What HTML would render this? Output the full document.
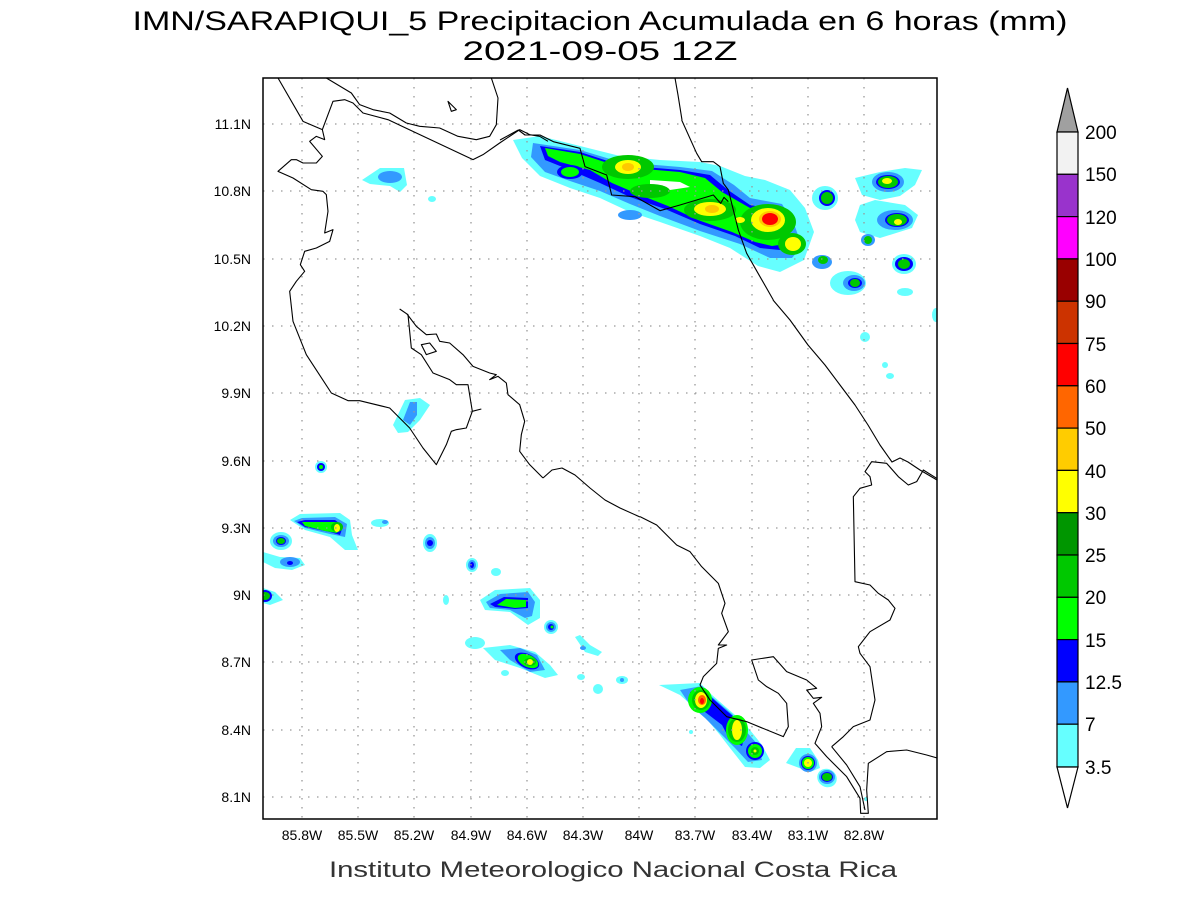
<!DOCTYPE html>
<html><head><meta charset="utf-8"><style>
html,body{margin:0;padding:0;background:#fff;}
svg{display:block;font-family:"Liberation Sans",sans-serif;}
</style></head><body>
<svg width="1200" height="900" viewBox="0 0 1200 900" xmlns="http://www.w3.org/2000/svg">
<rect width="1200" height="900" fill="#fff"/>
<text x="600" y="30" font-size="27" text-anchor="middle" textLength="935" lengthAdjust="spacingAndGlyphs">IMN/SARAPIQUI_5 Precipitacion Acumulada en 6 horas (mm)</text>
<text x="600" y="60" font-size="27" text-anchor="middle" textLength="275" lengthAdjust="spacingAndGlyphs">2021-09-05 12Z</text>

<defs><clipPath id="c"><rect x="263" y="78" width="674" height="741"/></clipPath></defs>
<g clip-path="url(#c)">
<g>
<!-- north band -->
<polygon fill="#66ffff" points="513,140 540,136 580,146 620,156 660,160 700,162 720,166 745,176 765,180 790,190 805,208 814,232 804,260 780,272 758,266 730,248 700,236 660,222 630,212 600,198 570,188 540,176 522,158"/>
<polygon fill="#3399ff" points="533,143 580,150 620,162 680,167 712,171 734,185 750,198 782,204 794,224 802,246 792,258 770,258 740,244 700,231 660,216 630,204 600,191 570,181 545,172 531,157"/>
<polygon fill="#0000ff" points="540,146 580,152 620,165 680,170 710,175 728,190 750,205 778,210 788,228 792,246 780,250 760,248 735,236 700,224 665,209 630,197 600,183 570,170 545,160"/>
<polygon fill="#00ff00" points="545,148 580,154 620,167 680,172 705,178 722,192 750,208 775,212 784,228 786,244 772,246 755,242 732,232 698,220 668,206 640,195 612,183 590,170 560,162 548,156"/>
<ellipse cx="628" cy="167" rx="26" ry="12" fill="#00c800"/>
<ellipse cx="628" cy="167" rx="13" ry="7" fill="#ffff00"/>
<ellipse cx="628" cy="167" rx="6" ry="4" fill="#ffc800"/>
<ellipse cx="570" cy="172" rx="13" ry="7" fill="#0000ff"/><ellipse cx="570" cy="172" rx="9" ry="5" fill="#00ff00"/>
<polygon fill="#ffffff" points="650,180 680,182 690,187 670,190 650,186"/>
<ellipse cx="650" cy="191" rx="20" ry="7" fill="#00c800"/>
<ellipse cx="710" cy="210" rx="26" ry="11" fill="#00c800"/>
<ellipse cx="710" cy="209" rx="16" ry="7" fill="#ffff00"/>
<ellipse cx="712" cy="209" rx="7" ry="4" fill="#ffc800"/>
<ellipse cx="768" cy="222" rx="28" ry="18" fill="#00c800"/>
<ellipse cx="768" cy="220" rx="17" ry="12" fill="#ffff00"/>
<ellipse cx="770" cy="219" rx="11" ry="8" fill="#ffc800"/>
<ellipse cx="770" cy="219" rx="8" ry="6" fill="#ff0000"/>
<ellipse cx="792" cy="244" rx="14" ry="11" fill="#00c800"/>
<ellipse cx="793" cy="244" rx="8" ry="7" fill="#ffff00"/>
<ellipse cx="740" cy="220" rx="5" ry="3" fill="#ffff00"/>
<ellipse cx="630" cy="215" rx="12" ry="5" fill="#3399ff"/>
<!-- right small -->
<polygon fill="#66ffff" points="855,178 880,172 905,168 922,170 915,185 900,196 880,200 862,195"/>
<ellipse cx="888" cy="182" rx="16" ry="10" fill="#3399ff"/><ellipse cx="888" cy="182" rx="12" ry="7" fill="#0000ff"/><ellipse cx="888" cy="182" rx="10" ry="6" fill="#00c800"/><ellipse cx="887" cy="181" rx="5" ry="3" fill="#ffff00"/>
<ellipse cx="825" cy="198" rx="13" ry="12" fill="#66ffff"/><ellipse cx="827" cy="198" rx="8" ry="8" fill="#0000ff"/><ellipse cx="827" cy="198" rx="6" ry="6" fill="#00c800"/>
<polygon fill="#66ffff" points="855,220 860,205 875,200 905,205 918,215 912,228 880,238 860,232"/>
<ellipse cx="895" cy="220" rx="18" ry="10" fill="#3399ff"/><ellipse cx="897" cy="220" rx="12" ry="7" fill="#0000ff"/><ellipse cx="897" cy="220" rx="10" ry="6" fill="#00c800"/><ellipse cx="898" cy="222" rx="4" ry="3" fill="#ffff00"/>
<ellipse cx="868" cy="240" rx="7" ry="6" fill="#3399ff"/><ellipse cx="868" cy="240" rx="4" ry="4" fill="#00c800"/>
<ellipse cx="904" cy="264" rx="12" ry="10" fill="#66ffff"/><ellipse cx="904" cy="264" rx="9" ry="7" fill="#0000ff"/><ellipse cx="904" cy="264" rx="6" ry="5" fill="#00c800"/>
<ellipse cx="822" cy="262" rx="10" ry="7" fill="#3399ff"/><ellipse cx="823" cy="260" rx="5" ry="4" fill="#00c800"/>
<ellipse cx="848" cy="283" rx="18" ry="12" fill="#66ffff"/><ellipse cx="854" cy="283" rx="11" ry="8" fill="#3399ff"/><ellipse cx="855" cy="283" rx="7" ry="5" fill="#0000ff"/><ellipse cx="855" cy="283" rx="5" ry="4" fill="#00c800"/>
<ellipse cx="905" cy="292" rx="8" ry="4" fill="#66ffff"/><ellipse cx="865" cy="337" rx="5" ry="5" fill="#66ffff"/><ellipse cx="936" cy="315" rx="4" ry="7" fill="#66ffff"/>
<ellipse cx="885" cy="365" rx="3" ry="3" fill="#66ffff"/><ellipse cx="890" cy="376" rx="4" ry="3" fill="#66ffff"/>
<!-- left small -->
<polygon fill="#66ffff" points="362,180 380,168 404,168 407,185 400,192 390,186 370,184"/>
<ellipse cx="390" cy="177" rx="12" ry="6" fill="#3399ff"/>
<ellipse cx="432" cy="199" rx="4" ry="3" fill="#66ffff"/>
<polygon fill="#66ffff" points="393,425 405,400 420,398 430,405 420,420 408,432 398,433"/>
<polygon fill="#3399ff" points="403,420 410,402 417,402 417,415 410,425"/>
<ellipse cx="321" cy="467" rx="6" ry="6" fill="#66ffff"/><ellipse cx="321" cy="467" rx="4" ry="4" fill="#0000ff"/><ellipse cx="321" cy="467" rx="2" ry="2" fill="#00ff00"/>
<!-- lower left -->
<polygon fill="#66ffff" points="290,520 300,514 340,513 350,520 352,535 358,550 345,550 330,537 305,530"/>
<polygon fill="#3399ff" points="294,521 302,518 335,517 347,524 345,537 330,534 305,528"/>
<polygon fill="#0000ff" points="297,522 305,520 335,520 343,526 340,535 330,532 305,527"/>
<polygon fill="#00ff00" points="302,522 310,522 335,522 340,527 337,533 325,531 305,526"/>
<ellipse cx="337" cy="527" rx="6" ry="5" fill="#00c800"/><ellipse cx="337" cy="528" rx="3" ry="4" fill="#ffff00"/>
<ellipse cx="380" cy="523" rx="9" ry="4" fill="#66ffff"/><ellipse cx="385" cy="522" rx="3" ry="2" fill="#3399ff"/>
<ellipse cx="281" cy="541" rx="11" ry="9" fill="#66ffff"/><ellipse cx="281" cy="541" rx="8" ry="6" fill="#3399ff"/><ellipse cx="281" cy="541" rx="5" ry="4" fill="#0000ff"/><ellipse cx="281" cy="541" rx="4" ry="3" fill="#00c800"/>
<polygon fill="#66ffff" points="263,552 280,557 300,558 305,565 292,570 275,568 263,562"/>
<ellipse cx="290" cy="562" rx="10" ry="5" fill="#3399ff"/><ellipse cx="290" cy="563" rx="3" ry="2" fill="#0000ff"/>
<polygon fill="#66ffff" points="263,588 275,592 283,600 270,605 263,603"/>
<ellipse cx="265" cy="596" rx="7" ry="6" fill="#0000ff"/><ellipse cx="265" cy="596" rx="5" ry="4" fill="#00c800"/>
<ellipse cx="430" cy="543" rx="7" ry="9" fill="#66ffff"/><ellipse cx="430" cy="543" rx="5" ry="6" fill="#3399ff"/><ellipse cx="430" cy="543" rx="3" ry="3" fill="#0000ff"/>
<ellipse cx="472" cy="565" rx="6" ry="7" fill="#66ffff"/><ellipse cx="472" cy="565" rx="4" ry="5" fill="#3399ff"/><ellipse cx="472" cy="565" rx="2" ry="3" fill="#0000ff"/>
<ellipse cx="496" cy="572" rx="5" ry="4" fill="#66ffff"/><ellipse cx="446" cy="600" rx="3" ry="5" fill="#66ffff"/>
<polygon fill="#66ffff" points="480,600 495,590 530,588 540,600 540,618 528,625 510,612 485,610"/>
<polygon fill="#3399ff" points="486,602 500,594 528,592 535,602 532,616 525,618 510,610 490,608"/>
<polygon fill="#0000ff" points="490,604 504,597 528,598 528,608 515,609 495,607"/>
<polygon fill="#00ff00" points="497,605 506,599 526,600 526,607 515,608"/>
<ellipse cx="551" cy="627" rx="7" ry="7" fill="#66ffff"/><ellipse cx="551" cy="627" rx="5" ry="5" fill="#3399ff"/><ellipse cx="551" cy="627" rx="3" ry="3" fill="#0000ff"/><ellipse cx="552" cy="627" rx="1.5" ry="1.5" fill="#00ff00"/>
<ellipse cx="475" cy="643" rx="10" ry="6" fill="#66ffff"/>
<polygon fill="#66ffff" points="483,648 510,645 535,652 550,665 558,675 545,678 520,668 495,660"/>
<polygon fill="#3399ff" points="500,650 520,648 537,655 545,670 530,672 510,660"/>
<ellipse cx="527" cy="661" rx="13" ry="7" fill="#0000ff" transform="rotate(25 527 661)"/>
<ellipse cx="528" cy="661" rx="11" ry="6" fill="#00ff00" transform="rotate(25 528 661)"/>
<ellipse cx="530" cy="662" rx="6" ry="4" fill="#00c800"/><ellipse cx="530" cy="662" rx="3" ry="3" fill="#ffff00"/>
<polygon fill="#66ffff" points="575,637 580,635 590,645 602,652 598,656 585,652"/>
<ellipse cx="583" cy="648" rx="3" ry="2" fill="#3399ff"/>
<ellipse cx="505" cy="673" rx="4" ry="3" fill="#66ffff"/><ellipse cx="581" cy="677" rx="4" ry="3" fill="#66ffff"/>
<ellipse cx="598" cy="689" rx="5" ry="5" fill="#66ffff"/>
<ellipse cx="622" cy="680" rx="6" ry="4" fill="#66ffff"/><ellipse cx="622" cy="680" rx="2" ry="2" fill="#3399ff"/>
<!-- Osa -->
<polygon fill="#66ffff" points="659,685 700,683 712,695 735,715 750,730 762,745 770,760 760,768 745,767 730,748 720,735 705,717 680,695"/>
<polygon fill="#3399ff" points="680,690 702,686 712,697 732,714 745,730 758,745 762,760 748,762 735,748 722,735 705,718 690,705"/>
<polygon fill="#0000ff" points="690,692 705,688 712,698 728,712 740,722 745,735 742,746 730,740 722,725 705,712 692,704"/>
<ellipse cx="700" cy="700" rx="12" ry="13" fill="#00ff00"/><ellipse cx="701" cy="700" rx="9" ry="10" fill="#00c800"/>
<ellipse cx="701" cy="700" rx="6" ry="8" fill="#ffff00"/><ellipse cx="702" cy="700" rx="4" ry="5" fill="#ff6600"/><ellipse cx="702" cy="701" rx="2" ry="3" fill="#ff0000"/>
<ellipse cx="737" cy="730" rx="11" ry="15" fill="#00ff00"/><ellipse cx="737" cy="730" rx="9" ry="12" fill="#00c800"/><ellipse cx="737" cy="730" rx="5" ry="10" fill="#ffff00"/>
<ellipse cx="755" cy="751" rx="9" ry="9" fill="#0000ff"/><ellipse cx="755" cy="751" rx="7" ry="7" fill="#00ff00"/><ellipse cx="755" cy="751" rx="4" ry="4" fill="#00c800"/><ellipse cx="755" cy="751" rx="1.5" ry="1.5" fill="#ffff00"/>
<ellipse cx="691" cy="732" rx="2" ry="2" fill="#66ffff"/>
<polygon fill="#66ffff" points="786,763 796,748 810,748 818,760 820,768 810,772"/>
<ellipse cx="808" cy="763" rx="9" ry="9" fill="#3399ff"/><ellipse cx="808" cy="763" rx="7" ry="7" fill="#0000ff"/><ellipse cx="808" cy="763" rx="6" ry="6" fill="#00ff00"/><ellipse cx="808" cy="763" rx="4" ry="4" fill="#ffff00"/>
<ellipse cx="827" cy="778" rx="10" ry="9" fill="#66ffff" transform="rotate(30 827 778)"/><ellipse cx="827" cy="777" rx="8" ry="7" fill="#3399ff"/><ellipse cx="827" cy="777" rx="6" ry="5" fill="#0000ff"/><ellipse cx="827" cy="777" rx="5" ry="4" fill="#00c800"/>
<ellipse cx="866" cy="799" rx="2" ry="2" fill="#66ffff"/>
</g>

<g stroke="#999" stroke-width="1.3" stroke-dasharray="1.5,7.5" fill="none">
<path d="M302,78V819M358,78V819M414,78V819M471,78V819M527,78V819M583,78V819M639,78V819M695,78V819M752,78V819M808,78V819M864,78V819"/>
<path d="M263,124H937M263,191H937M263,259H937M263,326H937M263,393H937M263,461H937M263,528H937M263,595H937M263,662H937M263,730H937M263,797H937"/>
</g>

<g fill="none" stroke="#000" stroke-width="1.1" stroke-linejoin="round">
<g transform="translate(263,78) scale(0.33333)">
<path vector-effect="non-scaling-stroke" d="M45,0 L120,130 L178,155 L185,185 L160,175 L140,190 L178,235 L160,255 L120,255 L100,245 L85,245 L45,280 L90,300 L145,335 L180,340 L190,350 L195,400 L185,465 L210,455 L200,490 L160,510 L125,520 L112,560 L125,580 L100,610 L80,640 L90,730 L130,830 L205,945 L255,968 L290,968 L380,990 L440,1050 L480,1110 L520,1160 L550,1100 L565,1060 L580,1055 L610,1050 L628,1000 L655,993"/>
<path vector-effect="non-scaling-stroke" d="M628,1000 L615,920 L580,920 L560,905 L510,885 L475,830 L445,810 L435,710 L410,693"/>
<path vector-effect="non-scaling-stroke" d="M432,708 L460,745 L490,770 L520,768 L530,790 L560,795 L600,830 L630,865 L680,885 L700,890 L680,905 L705,895 L730,915 L735,950 L770,980 L785,1030 L775,1070 L770,1120 L800,1160 L840,1200"/>
<path vector-effect="non-scaling-stroke" d="M475,800 L500,795 L520,820 L490,830 Z"/>
<path vector-effect="non-scaling-stroke" d="M190,0 L265,45 L290,80 L330,95 L380,105 L430,135 L470,145 L530,150 L585,175 L640,185 L680,175 L700,140 L705,60 L685,0"/>
<path vector-effect="non-scaling-stroke" d="M178,155 L210,70 L245,65 L270,75 L300,105 L375,125 L630,245 L660,230 L710,195 L770,155 L800,170 L830,175 L855,190"/>
<path vector-effect="non-scaling-stroke" d="M555,70 L565,100 L580,95 Z"/>
</g>
<path d="M543,478 L552,470 L562,468 L575,475 L590,488 L605,500 L620,508 L640,517"/>
<path d="M675,78 L678,95 L682,120"/>
<g transform="translate(500,120) scale(0.33333)">
<path vector-effect="non-scaling-stroke" d="M0,60 L55,30 L75,45 L120,45 L160,65 L240,85 L255,140 L320,165 L335,225 L405,230 L480,272 L540,255 L590,240 L640,225 L662,250 L672,232 L685,245"/>
<path vector-effect="non-scaling-stroke" d="M545,0 L590,100 L605,125 L640,125 L660,140 L670,190 L685,210 L700,270 L715,330 L740,400 L780,470 L820,540"/>
</g>
<path d="M773,300 L790,320 L808,345 L825,365 L840,385 L855,405 L868,425 L880,445 L892,462 L900,458 L908,462 L920,470 L937,480"/>
<g transform="translate(640,440) scale(0.33333)">
<path vector-effect="non-scaling-stroke" d="M0,230 L50,255 L110,315 L150,335 L185,380 L235,430 L255,490 L245,520 L265,575 L235,615 L260,615 L235,625 L230,670 L190,710 L180,735 L210,780 L260,830 L320,845 L430,890 L445,860 L440,790 L415,760 L380,740 L355,720 L335,660 L400,650 L440,695 L500,720 L530,745 L500,750 L520,775 L545,772 L520,790 L540,820 L545,860 L525,910 L560,950 L620,1010 L660,1075 L662,1120 L685,1120 L680,1050 L685,970 L740,935 L800,930 L860,945 L895,955"/>
<path vector-effect="non-scaling-stroke" d="M575,920 L610,890 L640,860 L690,840 L705,780 L690,680 L660,640 L655,620 L690,575 L750,540 L765,505 L745,480 L715,460 L690,435 L645,425 L640,170 L660,145 L695,135 L690,110 L675,95 L695,65 L740,70 L775,110 L805,135 L830,125 L850,90 L890,115"/>
<path vector-effect="non-scaling-stroke" d="M575,920 L620,975 L660,1040 L675,1110"/>
</g>
</g>
</g>
<rect x="263" y="78" width="674" height="741" fill="none" stroke="#000" stroke-width="1.5"/>

<g font-size="14" fill="#000" text-anchor="middle">
<text x="302" y="840">85.8W</text><text x="358" y="840">85.5W</text><text x="414" y="840">85.2W</text><text x="471" y="840">84.9W</text><text x="527" y="840">84.6W</text><text x="583" y="840">84.3W</text><text x="639" y="840">84W</text><text x="695" y="840">83.7W</text><text x="752" y="840">83.4W</text><text x="808" y="840">83.1W</text><text x="864" y="840">82.8W</text>
</g>
<g font-size="14" fill="#000" text-anchor="end">
<text x="251" y="129">11.1N</text><text x="251" y="196">10.8N</text><text x="251" y="264">10.5N</text><text x="251" y="331">10.2N</text><text x="251" y="398">9.9N</text><text x="251" y="466">9.6N</text><text x="251" y="533">9.3N</text><text x="251" y="600">9N</text><text x="251" y="667">8.7N</text><text x="251" y="735">8.4N</text><text x="251" y="802">8.1N</text>
</g>
<text x="613" y="877" font-size="22" fill="#333" text-anchor="middle" textLength="568" lengthAdjust="spacingAndGlyphs">Instituto Meteorologico Nacional Costa Rica</text>

<g stroke="#000" stroke-width="1.2">
<polygon points="1057,132 1078,132 1067.5,88" fill="#a0a0a0"/>
<rect x="1057" y="132" width="21" height="42.3" fill="#f2f2f2"/>
<rect x="1057" y="174.3" width="21" height="42.3" fill="#9933cc"/>
<rect x="1057" y="216.6" width="21" height="42.3" fill="#ff00ff"/>
<rect x="1057" y="258.9" width="21" height="42.3" fill="#990000"/>
<rect x="1057" y="301.2" width="21" height="42.3" fill="#cc3300"/>
<rect x="1057" y="343.5" width="21" height="42.3" fill="#ff0000"/>
<rect x="1057" y="385.8" width="21" height="42.3" fill="#ff6600"/>
<rect x="1057" y="428.1" width="21" height="42.3" fill="#ffcc00"/>
<rect x="1057" y="470.4" width="21" height="42.3" fill="#ffff00"/>
<rect x="1057" y="512.7" width="21" height="42.3" fill="#009600"/>
<rect x="1057" y="555" width="21" height="42.3" fill="#00c800"/>
<rect x="1057" y="597.3" width="21" height="42.3" fill="#00ff00"/>
<rect x="1057" y="639.6" width="21" height="42.3" fill="#0000ff"/>
<rect x="1057" y="681.9" width="21" height="42.3" fill="#3399ff"/>
<rect x="1057" y="724.2" width="21" height="42.8" fill="#66ffff"/>
<polygon points="1057,767 1078,767 1067.5,808" fill="#fff"/>
</g>
<g font-size="19" fill="#000">
<text x="1085" y="139">200</text><text x="1085" y="181">150</text><text x="1085" y="224">120</text><text x="1085" y="266">100</text><text x="1085" y="308">90</text><text x="1085" y="351">75</text><text x="1085" y="393">60</text><text x="1085" y="435">50</text><text x="1085" y="478">40</text><text x="1085" y="520">30</text><text x="1085" y="562">25</text><text x="1085" y="604">20</text><text x="1085" y="647">15</text><text x="1085" y="689">12.5</text><text x="1085" y="731">7</text><text x="1085" y="774">3.5</text>
</g>
</svg>
</body></html>
